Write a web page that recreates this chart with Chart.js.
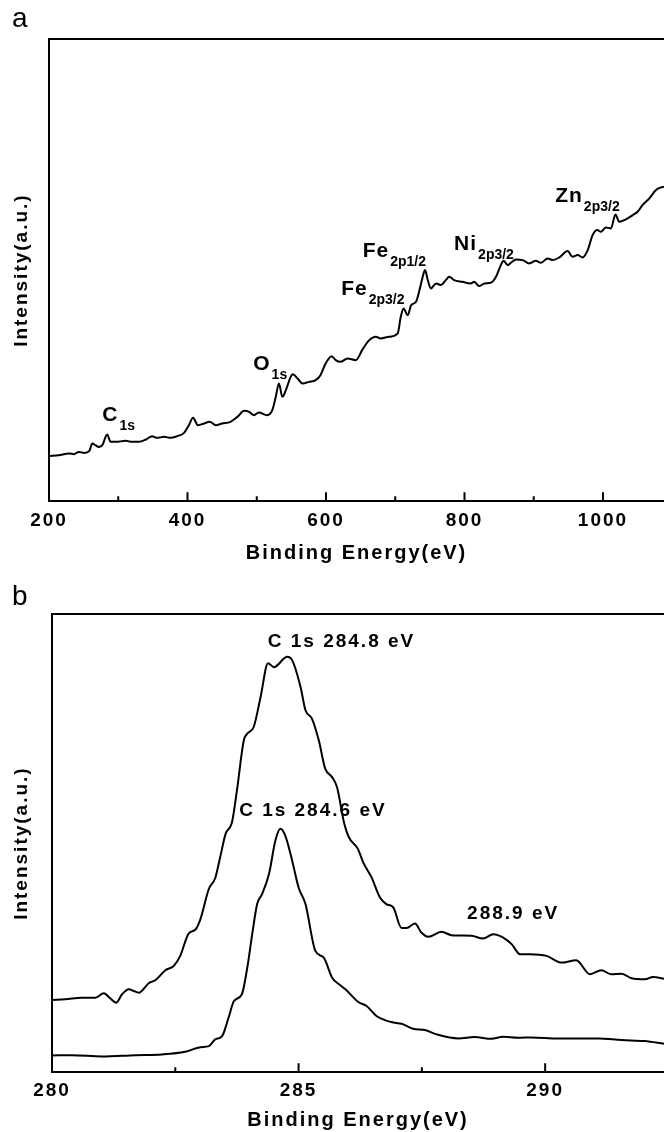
<!DOCTYPE html>
<html>
<head>
<meta charset="utf-8">
<title>XPS spectra</title>
<script src="https://cdn.jsdelivr.net/npm/chart.js@4.4.1/dist/chart.umd.min.js"></script>
<style>
    html, body { margin: 0; padding: 0; background: #fff; overflow: hidden; }
    .panel { position: relative; width: 664px; }
    canvas { display: block; }
</style>
</head>
<body>
<div class="panel"><canvas id="surveyChart" width="664" height="565"></canvas></div>
<div class="panel"><canvas id="c1sChart" width="664" height="567"></canvas></div>
<script>
// ---- panel a: survey spectrum ----
const surveyEnergy = [200, 214, 229, 236, 243, 251, 258, 262.5, 267, 272, 277, 284, 289, 296, 311, 320, 330, 340, 349, 356,
    366, 376, 385, 395, 402, 408, 415, 424, 432, 441, 450, 462, 472, 482, 489, 496, 503, 515, 522.5, 527.5,
    532, 537, 542, 549, 552, 559, 566, 575.5, 585, 592, 599.5, 608, 614, 621, 631, 643, 653, 662.5, 672, 679,
    691, 703.5, 708, 712, 718, 723, 730, 735, 738.5, 743, 747, 751.5, 759, 766, 773, 778, 785, 797, 809, 814,
    821, 829, 838, 845.5, 852.5, 856.5, 862.5, 867, 874.5, 884, 893.5, 903, 910.5, 920, 927.5, 937, 949, 956, 963.5, 970.5,
    978, 985, 992, 997, 1004, 1011.5, 1018, 1023.5, 1033, 1043, 1050, 1057, 1067, 1076.5, 1084, 1088];
const surveyIntensity = [45, 46, 47.7, 47, 49.3, 48.3, 50, 57.7, 56, 54.3, 56, 66.7, 59.3, 59.3, 60.3, 59.3, 59.3, 61.7, 65, 63.3,
    64.3, 63.3, 65, 68.3, 76, 83.3, 76, 77.7, 79.3, 76, 77.7, 79.3, 84.3, 90.3, 89.3, 86, 88.7, 86, 91, 104.3,
    117.7, 104.3, 111, 124.3, 127, 122.7, 117.7, 119.3, 121, 126, 137.7, 145, 141, 139.3, 142.7, 141, 152, 161, 164.3, 162.7,
    164.3, 167.7, 184.3, 192.7, 186, 196, 199.3, 211, 221, 231, 221, 212.7, 217.7, 216, 221, 224.3, 221, 219.3, 217.7, 219.3,
    215, 217.7, 218.3, 224.3, 236, 240.3, 236, 238.3, 241.7, 241, 237.7, 240.3, 238.3, 242.7, 241, 243.7, 250, 244.3, 246, 243.7,
    251, 266, 271, 269.3, 273.7, 272.7, 286.7, 279.3, 281.7, 286, 289.3, 296, 302.7, 311, 313.7, 314.3];
const surveyTicks = [200, 400, 600, 800, 1000];
const surveyMinorTicks = [300, 500, 700, 900];
const surveyPeaks = [
    { text: 'C', sub: '1s', e: 277, i: 80.5 },
    { text: 'O', sub: '1s', e: 495, i: 131 },
    { text: 'Fe', sub: '2p3/2', e: 622, i: 206.5 },
    { text: 'Fe', sub: '2p1/2', e: 653, i: 244 },
    { text: 'Ni', sub: '2p3/2', e: 785, i: 251 },
    { text: 'Zn', sub: '2p3/2', e: 931, i: 299 }
];

// ---- panel b: C 1s region ----
const c1sEnergyUpper = [280.00, 280.27, 280.61, 280.88, 281.05, 281.18, 281.30, 281.42, 281.56, 281.66,
    281.76, 281.96, 282.10, 282.30, 282.47, 282.60, 282.77, 282.91, 283.01, 283.18,
    283.31, 283.41, 283.52, 283.65, 283.75, 283.89, 283.96, 284.09, 284.23, 284.38,
    284.50, 284.77, 284.87, 285.04, 285.14, 285.27, 285.41, 285.54, 285.68, 285.78,
    285.92, 286.02, 286.20, 286.31, 286.48, 286.65, 286.78, 286.92, 287.09, 287.19,
    287.36, 287.49, 287.63, 287.90, 288.10, 288.51, 288.74, 288.95, 289.15, 289.32,
    289.49, 289.69, 290.03, 290.33, 290.63, 290.91, 291.14, 291.34, 291.55, 291.75,
    292.02, 292.19, 292.41];
const c1sIntensityUpper = [72, 72.7, 74.3, 74.3, 78.7, 73.7, 69.3, 77.7, 82.7, 81,
    79.3, 88.7, 92, 101.7, 106, 116, 138.3, 142.3, 152.7, 182.7,
    193.7, 214.3, 237.7, 249.3, 281, 331, 337.7, 344.3, 374.3, 408,
    404, 414.3, 411, 384.3, 361, 352.7, 331, 302.7, 294.3, 284.3,
    249.3, 234.3, 223, 209.3, 194.3, 174.3, 167.7, 164.3, 143.7, 143.7,
    148.3, 139.3, 135, 140, 136.7, 136, 133.3, 137.7, 134.3, 127.7,
    117.7, 117.7, 116, 109.3, 111.7, 97.7, 101.7, 97.7, 98.3, 93.7,
    92.7, 95, 93.3];
const c1sEnergyLower = [280.00, 280.41, 281.01, 281.69, 282.23, 282.70, 283.01, 283.18, 283.31, 283.45,
    283.58, 283.69, 283.85, 283.96, 284.06, 284.16, 284.26, 284.40, 284.53, 284.63,
    284.73, 284.87, 285.00, 285.14, 285.34, 285.51, 285.68, 285.82, 285.95, 286.21,
    286.38, 286.58, 286.88, 287.09, 287.32, 287.56, 287.80, 288.24, 288.57, 288.91,
    289.15, 289.45, 289.72, 290.26, 291.08, 291.55, 292.02, 292.41];
const c1sIntensityLower = [16.7, 17, 15.7, 17, 17.7, 20.3, 25, 26, 32.7, 36,
    54.3, 71, 77.7, 104.3, 137.7, 167.7, 177.7, 197.7, 231, 242.7,
    236, 211, 184.3, 167.7, 121, 114.3, 94.3, 87.7, 82.7, 70,
    66, 56, 50, 48.3, 43.3, 42, 37.7, 33.7, 35, 33.3,
    35.3, 34.3, 34.7, 33.7, 33.7, 32, 31, 28.3];
const c1sTicks = [280, 285, 290];
const c1sMinorTicks = [282.5, 287.5];
const c1sPeaks = [
    { text: 'C 1s 284.8 eV', e: 285.87, i: 424 },
    { text: 'C 1s 284.6 eV', e: 285.29, i: 256 },
    { text: '288.9 eV', e: 289.35, i: 153 }
];

const FAMILY = "'Liberation Sans', Arial, Helvetica, sans-serif";
Chart.defaults.font.family = FAMILY;
Chart.defaults.color = '#000';

// frame top line, inward ticks, panel letter and peak labels
function makeDecor(cfg) {
    return {
        id: 'decor',
        beforeDraw(chart) {
            chart.ctx.letterSpacing = '2px';
        },
        afterDraw(chart) {
            const { ctx, chartArea: area, scales: { x, y } } = chart;
            ctx.save();
            ctx.strokeStyle = '#000';
            ctx.lineWidth = 2;
            ctx.beginPath();
            ctx.moveTo(area.left - 1, area.top);
            ctx.lineTo(area.right, area.top);
            cfg.major.forEach(v => {
                const px = x.getPixelForValue(v);
                ctx.moveTo(px, area.bottom);
                ctx.lineTo(px, area.bottom - 9);
            });
            cfg.minor.forEach(v => {
                const px = x.getPixelForValue(v);
                ctx.moveTo(px, area.bottom);
                ctx.lineTo(px, area.bottom - 5);
            });
            ctx.stroke();

            ctx.fillStyle = '#000';
            ctx.textBaseline = 'alphabetic';
            ctx.textAlign = 'left';
            ctx.letterSpacing = '0px';
            ctx.font = '28px ' + FAMILY;
            ctx.fillText(cfg.letter, 12, cfg.letterY);

            cfg.labels.forEach(l => {
                const px = x.getPixelForValue(l.e);
                const py = y.getPixelForValue(l.i);
                ctx.font = cfg.labelFont;
                ctx.letterSpacing = cfg.labelSpacing;
                ctx.textAlign = cfg.labelAlign;
                ctx.fillText(l.text, px, py);
                if (l.sub) {
                    const w = ctx.measureText(l.text).width;
                    ctx.font = 'bold 14px ' + FAMILY;
                    ctx.letterSpacing = '0px';
                    ctx.fillText(l.sub, px + w + 1, py + 9);
                }
            });
            ctx.restore();
        }
    };
}

function xpsChart(id, cfg) {
    return new Chart(document.getElementById(id), {
        type: 'line',
        data: {
            datasets: cfg.series.map(s => ({
                data: s.x.map((e, i) => ({ x: e, y: s.y[i] })),
                borderColor: '#000',
                borderWidth: 2,
                pointRadius: 0,
                fill: false,
                cubicInterpolationMode: 'monotone'
            }))
        },
        options: {
            responsive: false,
            animation: false,
            events: [],
            layout: { autoPadding: false, padding: cfg.padding },
            plugins: { legend: { display: false }, tooltip: { enabled: false } },
            scales: {
                x: {
                    type: 'linear',
                    min: cfg.xMin,
                    max: cfg.xMax,
                    afterBuildTicks: axis => { axis.ticks = cfg.ticks.map(v => ({ value: v })); },
                    grid: { display: false, drawTicks: false },
                    border: { display: true, width: 2, color: '#000' },
                    ticks: {
                        padding: cfg.tickPad,
                        autoSkip: false,
                        maxRotation: 0,
                        font: { size: 19, weight: 'bold' },
                        callback: v => String(v)
                    },
                    title: {
                        display: true,
                        text: 'Binding Energy(eV)',
                        font: { size: 20, weight: 'bold' },
                        padding: { top: cfg.xTitlePad, bottom: 0 }
                    }
                },
                y: {
                    min: 0,
                    max: cfg.yMax,
                    ticks: { display: false },
                    grid: { display: false, drawTicks: false },
                    border: { display: true, width: 2, color: '#000' },
                    title: {
                        display: true,
                        text: 'Intensity(a.u.)',
                        font: { size: 19, weight: 'bold' },
                        padding: { top: 0, bottom: cfg.yTitlePad }
                    }
                }
            }
        },
        plugins: [makeDecor(cfg)]
    });
}

xpsChart('surveyChart', {
    series: [{ x: surveyEnergy, y: surveyIntensity }],
    xMin: 200, xMax: 1088.1, yMax: 462,
    ticks: surveyTicks, major: surveyTicks, minor: surveyMinorTicks,
    padding: { top: 39, left: 10, right: 0, bottom: 0 },
    tickPad: 8, xTitlePad: 1, yTitlePad: 16.2,
    letter: 'a', letterY: 27,
    labels: surveyPeaks, labelFont: 'bold 21px ' + FAMILY, labelSpacing: '1px', labelAlign: 'left'
});

xpsChart('c1sChart', {
    series: [{ x: c1sEnergyUpper, y: c1sIntensityUpper }, { x: c1sEnergyLower, y: c1sIntensityLower }],
    xMin: 280, xMax: 292.41, yMax: 457,
    ticks: c1sTicks, major: c1sTicks, minor: c1sMinorTicks,
    padding: { top: 49, left: 10, right: 0, bottom: 0 },
    tickPad: 7, xTitlePad: -1, yTitlePad: 19.2,
    letter: 'b', letterY: 40,
    labels: c1sPeaks, labelFont: 'bold 19px ' + FAMILY, labelSpacing: '2px', labelAlign: 'center'
});
</script>
</body>
</html>
